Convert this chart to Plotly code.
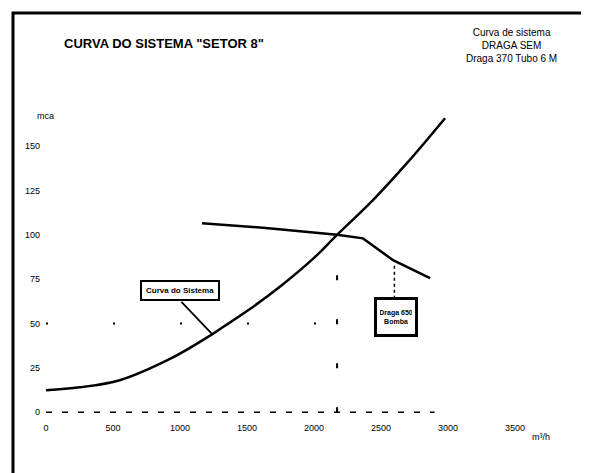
import plotly.graph_objects as go

# System curve (Curva do Sistema)
system_q = [0, 250, 550, 925, 1200, 1321, 1500, 1750, 2000, 2172, 2440, 2700, 2978]
system_h = [12.4, 14, 18, 30, 42, 48, 57, 71, 87, 100, 119.6, 141, 165.8]

# Pump curve (Draga 650 Bomba)
pump_q = [1164, 1700, 2172, 2366, 2590, 2866]
pump_h = [106.6, 103.5, 100, 98, 85.7, 75.6]

# Reference lines
op_q = 2172
ref_h = 50

x_ticks = [0, 500, 1000, 1500, 2000, 2500, 3000, 3500]
y_ticks = [0, 25, 50, 75, 100, 125, 150]

OFF = 8  # page body margin
W, H = 581, 465
L, R, T, B = 33, 34, 85, 52
pw, ph = W - L - R, H - T - B


def px(p):
    return (p - OFF - L) / pw


def py(p):
    return (H - B - (p - OFF)) / ph


FONT = "Liberation Sans"

fig = go.Figure()

fig.add_trace(go.Scatter(x=system_q, y=system_h, mode="lines",
                         line=dict(color="black", width=2.5, shape="spline", smoothing=1.0), showlegend=False))
fig.add_trace(go.Scatter(x=pump_q, y=pump_h, mode="lines", line=dict(color="black", width=2.5), showlegend=False))

# dotted reference lines
fig.add_shape(type="line", x0=0, x1=op_q, y0=ref_h, y1=ref_h, line=dict(color="black", width=2, dash="2px,65px"))
fig.add_shape(type="line", x0=op_q, x1=op_q, y0=0, y1=80, line=dict(color="black", width=2, dash="5px,39px"))
# dashed base axis line
fig.add_shape(type="line", x0=0, x1=2900, y0=0, y1=0, line=dict(color="black", width=1.5, dash="6px,10px"))
# connector to pump label
fig.add_shape(type="line", x0=2600, x1=2600, y0=64, y1=84, line=dict(color="black", width=1.5, dash="3px,3px"))

fig.add_annotation(x=1240, y=44, ax=1000, ay=63, axref="x", ayref="y", text="", showarrow=True,
                   arrowhead=0, arrowwidth=1.8, arrowcolor="black")
fig.add_annotation(x=1000, y=68.5, text="<b>Curva do Sistema</b>", showarrow=False,
                   font=dict(size=8, color="black", family=FONT),
                   bgcolor="white", bordercolor="black", borderwidth=2, borderpad=4)
fig.add_annotation(x=2612, y=53.6, text="<b>Draga 650<br>Bomba</b>", showarrow=False,
                   font=dict(size=7, color="black", family=FONT), width=32, height=28,
                   bgcolor="white", bordercolor="black", borderwidth=3, borderpad=3)

# titles
fig.add_annotation(xref="paper", yref="paper", x=px(62), y=py(43), xanchor="left", yanchor="middle",
                   text="<b>CURVA DO SISTEMA \"SETOR 8\"</b>", showarrow=False,
                   font=dict(size=13, color="black", family=FONT))
fig.add_annotation(xref="paper", yref="paper", x=px(511), y=py(45), xanchor="center", yanchor="middle",
                   text="Curva de sistema<br>DRAGA SEM<br>Draga 370 Tubo 6 M", showarrow=False,
                   font=dict(size=10, color="black", family=FONT))
fig.add_annotation(xref="paper", yref="paper", x=px(35), y=py(116), xanchor="left", yanchor="middle",
                   text="mca", showarrow=False, font=dict(size=9, color="black", family=FONT))
fig.add_annotation(xref="paper", yref="paper", x=px(530), y=py(437), xanchor="left", yanchor="middle",
                   text="m³/h", showarrow=False, font=dict(size=9, color="black", family=FONT))

# outer frame
fig.add_shape(type="rect", xref="paper", yref="paper", x0=px(13), x1=px(586), y0=py(13), y1=py(495),
              line=dict(color="black", width=3))

fig.update_xaxes(range=[-37.3, 3798.5], tickvals=x_ticks, showgrid=False, zeroline=False, showline=False,
                 ticks="", tickfont=dict(size=9, color="black", family=FONT))
fig.update_yaxes(range=[-5, 180], tickvals=y_ticks, showgrid=False, zeroline=False, showline=False,
                 ticks="", tickfont=dict(size=9, color="black", family=FONT))

fig.update_layout(width=W, height=H, margin=dict(l=L, r=R, t=T, b=B, autoexpand=False),
                  paper_bgcolor="white", plot_bgcolor="white", showlegend=False)

fig.write_html("out.html")
